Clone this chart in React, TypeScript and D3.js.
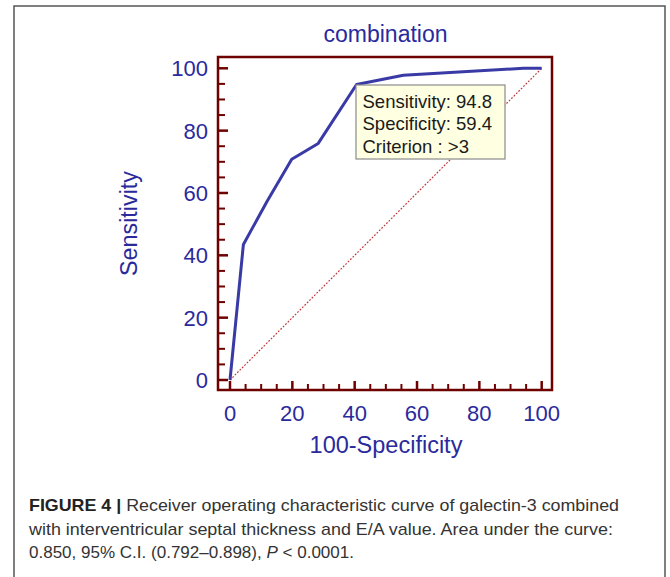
import React from "react";
import * as d3 from "d3";

const fpr = [0, 4.3, 12, 19.8, 28.3, 40.6, 55.6, 94.1, 100];
const sensitivity = [0, 43.5, 57.5, 70.8, 75.9, 94.8, 97.8, 100, 100];
const majorTicks = [0, 20, 40, 60, 80, 100];
const minorTicks = d3.range(0, 101, 5).filter((v) => v % 20 !== 0);
const tooltipLines = ["Sensitivity: 94.8", "Specificity: 59.4", "Criterion : >3"];
const title = "combination";
const xTitle = "100-Specificity";
const yTitle = "Sensitivity";
const captionLines = [
  "Receiver operating characteristic curve of galectin-3 combined",
  "with interventricular septal thickness and E/A value. Area under the curve:",
  "0.850, 95% C.I. (0.792\u20130.898), ",
];

const W = 670;
const H = 577;
const frame = { x: 218, y: 57, w: 334, h: 333 };
const blue = "#2a2a9c";
const maroon = "#6e0000";

export default function App() {
  const x = d3.scaleLinear().domain([0, 100]).range([230, 541.7]);
  const y = d3.scaleLinear().domain([0, 100]).range([380, 68.3]);
  const pts = fpr.map((f, i) => [f, sensitivity[i]] as [number, number]);
  const line = d3
    .line<[number, number]>()
    .x((d) => x(d[0]))
    .y((d) => y(d[1]));
  const font = "'Liberation Sans', Arial, sans-serif";
  const bottom = frame.y + frame.h;
  return (
    <svg
      width={W}
      height={H}
      style={{ position: "absolute", left: 0, top: 0, background: "#fff" }}
      fontFamily={font}
    >
      <rect x={14} y={6} width={651} height={H + 10} fill="#fff" stroke="#555" strokeWidth={1.5} />
      <text x={385.5} y={42} textAnchor="middle" fontSize={23} fill={blue}>
        {title}
      </text>
      {/* diagonal */}
      <line
        x1={x(0)}
        y1={y(0)}
        x2={x(100)}
        y2={y(100)}
        stroke="#c03a3a"
        strokeWidth={1.2}
        strokeDasharray="1.8,1.6"
      />
      {/* ticks */}
      {majorTicks.map((t) => (
        <g key={"m" + t}>
          <line x1={frame.x} x2={frame.x + 10} y1={y(t)} y2={y(t)} stroke={maroon} strokeWidth={2.5} />
          <line x1={x(t)} x2={x(t)} y1={bottom} y2={bottom - 9} stroke={maroon} strokeWidth={2.5} />
          <text x={208} y={y(t) + 8} textAnchor="end" fontSize={22} fill={blue}>
            {t}
          </text>
          <text x={x(t)} y={421} textAnchor="middle" fontSize={22} fill={blue}>
            {t}
          </text>
        </g>
      ))}
      {minorTicks.map((t) => (
        <g key={"n" + t}>
          <line x1={frame.x} x2={frame.x + 7} y1={y(t)} y2={y(t)} stroke={maroon} strokeWidth={2} />
          <line x1={x(t)} x2={x(t)} y1={bottom} y2={bottom - 6} stroke={maroon} strokeWidth={2} />
        </g>
      ))}
      <rect x={frame.x} y={frame.y} width={frame.w} height={frame.h} fill="none" stroke={maroon} strokeWidth={2.5} />
      <path d={line(pts) || ""} fill="none" stroke="#3a3aa6" strokeWidth={3} strokeLinejoin="round" />
      {/* tooltip */}
      <rect x={356} y={85} width={149} height={74} fill="#ffffe1" stroke="#8a8a8a" strokeWidth={1.2} />
      {tooltipLines.map((s, i) => (
        <text key={s} x={362.5} y={107.5 + i * 22.7} fontSize={18.5} fill="#1a1a1a">
          {s}
        </text>
      ))}
      <text x={386} y={453} textAnchor="middle" fontSize={23.5} fill={blue}>
        {xTitle}
      </text>
      <text
        transform={`translate(137,223.5) rotate(-90)`}
        textAnchor="middle"
        fontSize={23.3}
        fill={blue}
      >
        {yTitle}
      </text>
      {/* caption */}
      <text x={29} y={511} fontSize={17} fill="#333" textLength={590} lengthAdjust="spacingAndGlyphs">
        <tspan fontWeight="bold" fill="#222">FIGURE 4 | </tspan>
        {captionLines[0]}
      </text>
      <text x={29} y={535} fontSize={17} fill="#333" textLength={584} lengthAdjust="spacingAndGlyphs">
        {captionLines[1]}
      </text>
      <text x={29} y={558} fontSize={17} fill="#333" textLength={325} lengthAdjust="spacingAndGlyphs">
        {captionLines[2]}
        <tspan fontStyle="italic">P</tspan>
        {" < 0.0001."}
      </text>
    </svg>
  );
}
